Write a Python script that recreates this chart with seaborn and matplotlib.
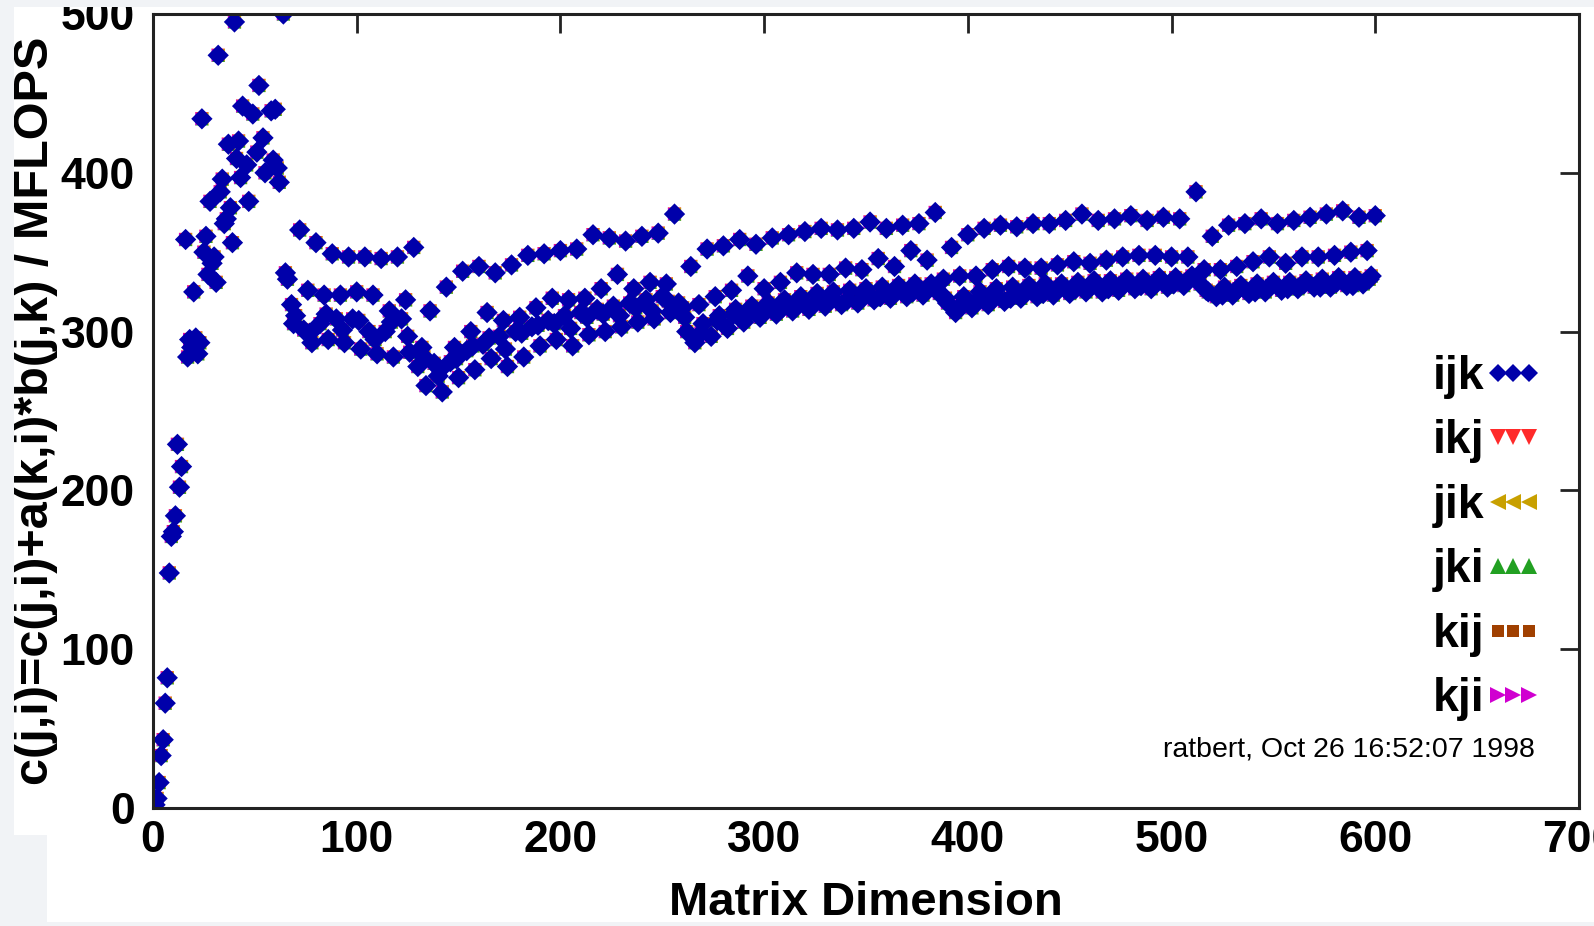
import matplotlib
matplotlib.use("Agg")
import matplotlib.pyplot as plt
import seaborn as sns
import pandas as pd
from matplotlib.lines import Line2D
from matplotlib.patches import Rectangle

# ---------------- data ----------------
early_dim = [1, 2, 3, 4, 5, 6, 7, 8, 9, 10, 11, 12, 13, 14,
             16, 17, 18, 19, 20, 21, 22, 23,
             24, 25, 26, 27, 28, 29, 30, 31, 32, 33, 34, 35, 36, 37, 38, 39, 40, 41, 42, 43, 44,
             46, 47, 49, 51, 52, 54, 55, 58, 59, 60, 61, 62, 64, 65]
early_mflops = [2, 6, 16, 33, 43, 66, 82, 148, 171, 174, 184, 229, 202, 215,
                358, 284, 295, 290, 325, 296, 286, 293,
                434, 350, 360, 336, 382, 343, 347, 331, 474, 388, 396, 368, 371, 418, 378, 356, 495, 409, 420, 397, 442,
                405, 382, 437, 413, 455, 422, 400, 439, 408, 440, 403, 394, 500, 337]

upper_dim = list(range(72, 601, 8))
upper_mflops = [364, 356, 349, 347, 347, 346, 347, 353,
                313, 328, 338, 341, 337, 342, 348, 349,
                351, 352, 361, 359, 357, 360, 362, 374,
                341, 352, 354, 358, 355, 359, 361, 363,
                365, 364, 365, 369, 365, 367, 368, 375,
                353, 361, 365, 367, 366, 368, 368, 370,
                374, 370, 371, 373, 370, 372, 371, 388,
                360, 367, 368, 371, 368, 370, 372, 374,
                376, 372, 373]

mid_dim = list(range(68, 597, 8))
mid_mflops = [317, 326, 323, 323, 325, 323, 313, 320,
              290, 272, 290, 300, 312, 307, 309, 315,
              321, 320, 321, 327, 336, 327, 331, 330,
              315, 317, 322, 326, 335, 327, 331, 337,
              336, 336, 340, 339, 346, 341, 351, 345,
              333, 335, 335, 339, 341, 340, 340, 342,
              344, 343, 345, 347, 348, 348, 347, 347,
              339, 339, 341, 344, 347, 343, 347, 347,
              348, 350, 351]

lower_dim = list(range(66, 599, 4))
lower_mflops = [333, 310, 301, 293, 305, 295, 308, 293, 308, 289,
                300, 286, 300, 284, 308, 287, 278, 266, 280, 262,
                281, 271, 288, 276, 292, 283, 297, 278, 300, 284,
                303, 291, 307, 295, 310, 291, 312, 298, 314, 300,
                316, 303, 318, 306, 320, 308, 322, 312, 318, 300,
                293, 305, 297, 310, 302, 314, 306, 316, 309, 318,
                311, 320, 313, 322, 314, 324, 316, 325, 317, 326,
                318, 327, 320, 328, 321, 329, 322, 330, 323, 330,
                324, 318, 312, 322, 315, 325, 317, 327, 319, 328,
                321, 329, 322, 330, 323, 330, 324, 331, 325, 332,
                325, 332, 326, 333, 327, 333, 327, 334, 328, 334,
                329, 335, 330, 325, 322, 328, 323, 329, 324, 330,
                325, 331, 326, 331, 327, 332, 328, 333, 328, 334,
                329, 334, 330, 335]

band_dim = list(range(69, 598, 8))
band_mflops = [305, 299, 311, 301, 307, 295, 306, 297,
               284, 276, 283, 291, 296, 289, 299, 304,
               305, 302, 309, 311, 310, 315, 313, 319,
               309, 299, 307, 311, 312, 316, 315, 319,
               318, 321, 320, 324, 322, 326, 325, 328,
               321, 317, 320, 323, 321, 326, 324, 328,
               327, 329, 327, 331, 329, 332, 330, 333,
               326, 323, 327, 325, 329, 327, 330, 328,
               331, 329, 333]

orders = ["ikj", "jik", "jki", "kij", "kji", "ijk"]      # ijk drawn last (on top)
legend_order = ["ijk", "ikj", "jik", "jki", "kij", "kji"]
palette = {"ijk": "#0000aa", "ikj": "#ff2a2a", "jik": "#c8a000",
           "jki": "#22a022", "kij": "#a04000", "kji": "#d000d0"}
markers = {"ijk": "D", "ikj": "v", "jik": "<", "jki": "^", "kij": "s", "kji": ">"}
sizes = {"ijk": 118, "ikj": 92, "jik": 92, "jki": 92, "kij": 60, "kji": 92}

dims = early_dim + lower_dim + band_dim + mid_dim + upper_dim
vals = early_mflops + lower_mflops + band_mflops + mid_mflops + upper_mflops
df = pd.concat([pd.DataFrame({"dim": dims, "mflops": vals, "order": o}) for o in orders],
               ignore_index=True)

# ---------------- style ----------------
sns.set_style("white")
plt.rcParams["font.family"] = ["Liberation Sans", "DejaVu Sans"]
for k in ("text.color", "axes.labelcolor", "xtick.color", "ytick.color"):
    plt.rcParams[k] = "black"

FS = 32
W, H = 1594, 926
fig = plt.figure(figsize=(W / 100, H / 100), dpi=100, facecolor="white")
ax = fig.add_axes([153 / W, 1 - 808 / H, (1579 - 153) / W, (808 - 14) / H])

sns.scatterplot(data=df, x="dim", y="mflops", hue="order", style="order", size="order",
                hue_order=orders, style_order=orders, size_order=orders,
                palette=palette, markers=markers, sizes=sizes,
                linewidth=0, legend=False, ax=ax)

ax.set_xlim(0, 700)
ax.set_ylim(0, 500)
ax.set_xticks(range(0, 701, 100))
ax.set_yticks(range(0, 501, 100))
for sp in ax.spines.values():
    sp.set_visible(True)
    sp.set_linewidth(2.2)
    sp.set_color("#222222")
ax.tick_params(direction="in", length=14, width=2, color="#222222",
               top=True, right=True, labelsize=FS, labelcolor="black")
ax.tick_params(axis="y", pad=13)
ax.tick_params(axis="x", pad=9)
for lab in ax.get_xticklabels() + ax.get_yticklabels():
    lab.set_fontweight("bold")

ax.set_xlabel("Matrix Dimension", fontweight="bold", fontsize=34)
ax.xaxis.set_label_coords(0.5, -0.12)
ax.xaxis.label.set_va("center")
ax.set_ylabel("c(j,i)=c(j,i)+a(k,i)*b(j,k) / MFLOPS", fontweight="bold", fontsize=35)
ax.yaxis.set_label_coords(-0.0825, 0.5)
ax.yaxis.label.set(va="center", ha="center", rotation_mode="default")

handles = [Line2D([], [], marker=markers[o], color=palette[o], linestyle="None",
                  markersize=9 if o in ("ijk", "kij") else 12, markeredgewidth=0)
           for o in legend_order]
leg = ax.legend(handles, legend_order, loc="upper right",
                bbox_to_anchor=(1543 / W, 1 - 355 / H), bbox_transform=fig.transFigure,
                frameon=False, markerfirst=False, numpoints=3, handlelength=1.27,
                handletextpad=0.0, borderpad=0, borderaxespad=0, labelspacing=0.44,
                prop={"weight": "bold", "size": 33.5})

fig.text(1535 / W, 1 - 750 / H, "ratbert, Oct 26 16:52:07 1998", ha="right", va="center",
         fontsize=20.5, color="black")

# slide frame around the screenshot
gray = "#f1f3f6"
for (x0, y0, x1, y1) in [(0, 0, W, 7), (0, 0, 14, 835), (0, 835, 47, H), (0, 922, W, H)]:
    fig.patches.append(Rectangle((x0 / W, 1 - y1 / H), (x1 - x0) / W, (y1 - y0) / H,
                                 transform=fig.transFigure, facecolor=gray,
                                 edgecolor="none", zorder=10))

fig.savefig("out.png", dpi=100, facecolor="white")
